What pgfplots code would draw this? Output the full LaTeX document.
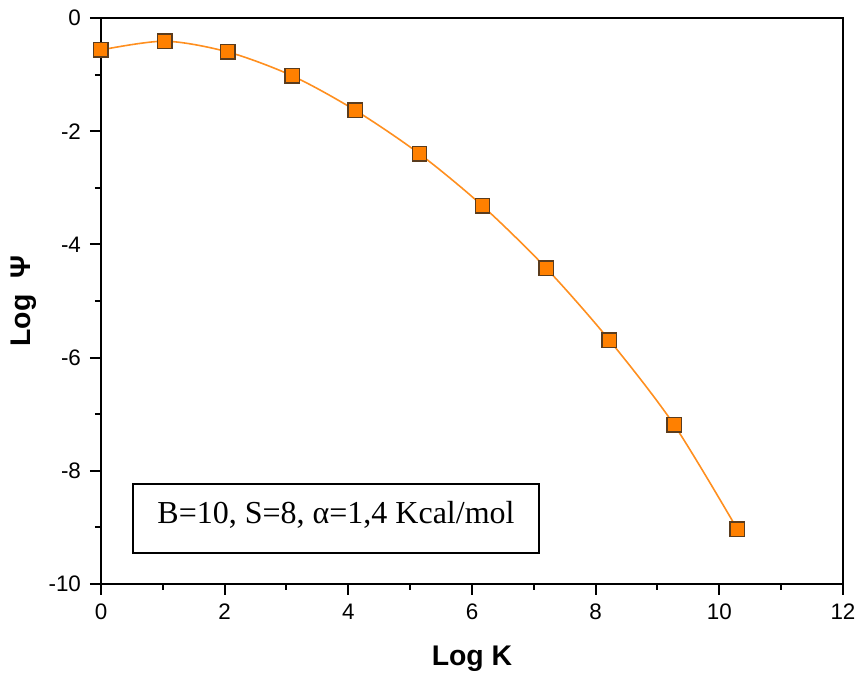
\documentclass[border=0pt]{standalone}
\usepackage{pgfplots}
\pgfplotsset{compat=1.18}
\usepackage{fontspec}
\setmainfont{Liberation Sans}
\newfontfamily\timesfont{Liberation Serif}
\definecolor{mkfill}{HTML}{FF8000}
\definecolor{mkdraw}{HTML}{5A3C1E}
\definecolor{curve}{HTML}{FF8F1F}
\begin{document}
\begin{tikzpicture}
\path[use as bounding box] (-50.5pt,-45pt) rectangle (378.5pt,292pt);
\begin{axis}[
  at={(0,0)}, anchor=south west,
  scale only axis, width=371pt, height=283pt,
  xmin=0, xmax=12, ymin=-10, ymax=0,
  xtick={0,2,...,12}, ytick={-10,-8,...,0},
  minor xtick={1,3,...,11}, minor ytick={-9,-7,...,-1},
  axis line style={line width=1pt},
  tick style={line width=1pt, black},
  major tick length=5.5pt, minor tick length=3pt,
  tick align=outside,
  xtick pos=bottom, ytick pos=left,
  /pgf/number format/assume math mode=true,
  ticklabel style={font=\fontsize{11.2}{13}\selectfont},
  xticklabel style={yshift=-1pt},
  yticklabel style={xshift=-1pt},
  xlabel={Log K}, ylabel={Log\ \ Ψ},
  label style={font=\fontsize{14.2}{17}\selectfont\bfseries},
  xlabel style={yshift=-6pt},
  ylabel style={yshift=-1pt},
  clip=false,
]
\addplot[color=curve, line width=0.8pt, smooth, tension=0.5,
  mark=square*, mark size=3.6pt,
  mark options={fill=mkfill, draw=mkdraw, line width=0.7pt}]
coordinates {
(0,-0.565) (1.03,-0.41) (2.05,-0.60) (3.09,-1.02) (4.11,-1.63)
(5.15,-2.40) (6.17,-3.32) (7.20,-4.42) (8.22,-5.69) (9.27,-7.19) (10.29,-9.03)
};
\draw[line width=0.8pt] (axis description cs:0.0431,0.0548) rectangle (axis description cs:0.5903,0.1767);
\node[anchor=base, inner sep=0pt, font=\timesfont\fontsize{16}{19}\selectfont]
  at (axis description cs:0.3167,0.106) {B=10, S=8, α=1,4 Kcal/mol};
\end{axis}
\end{tikzpicture}
\end{document}
